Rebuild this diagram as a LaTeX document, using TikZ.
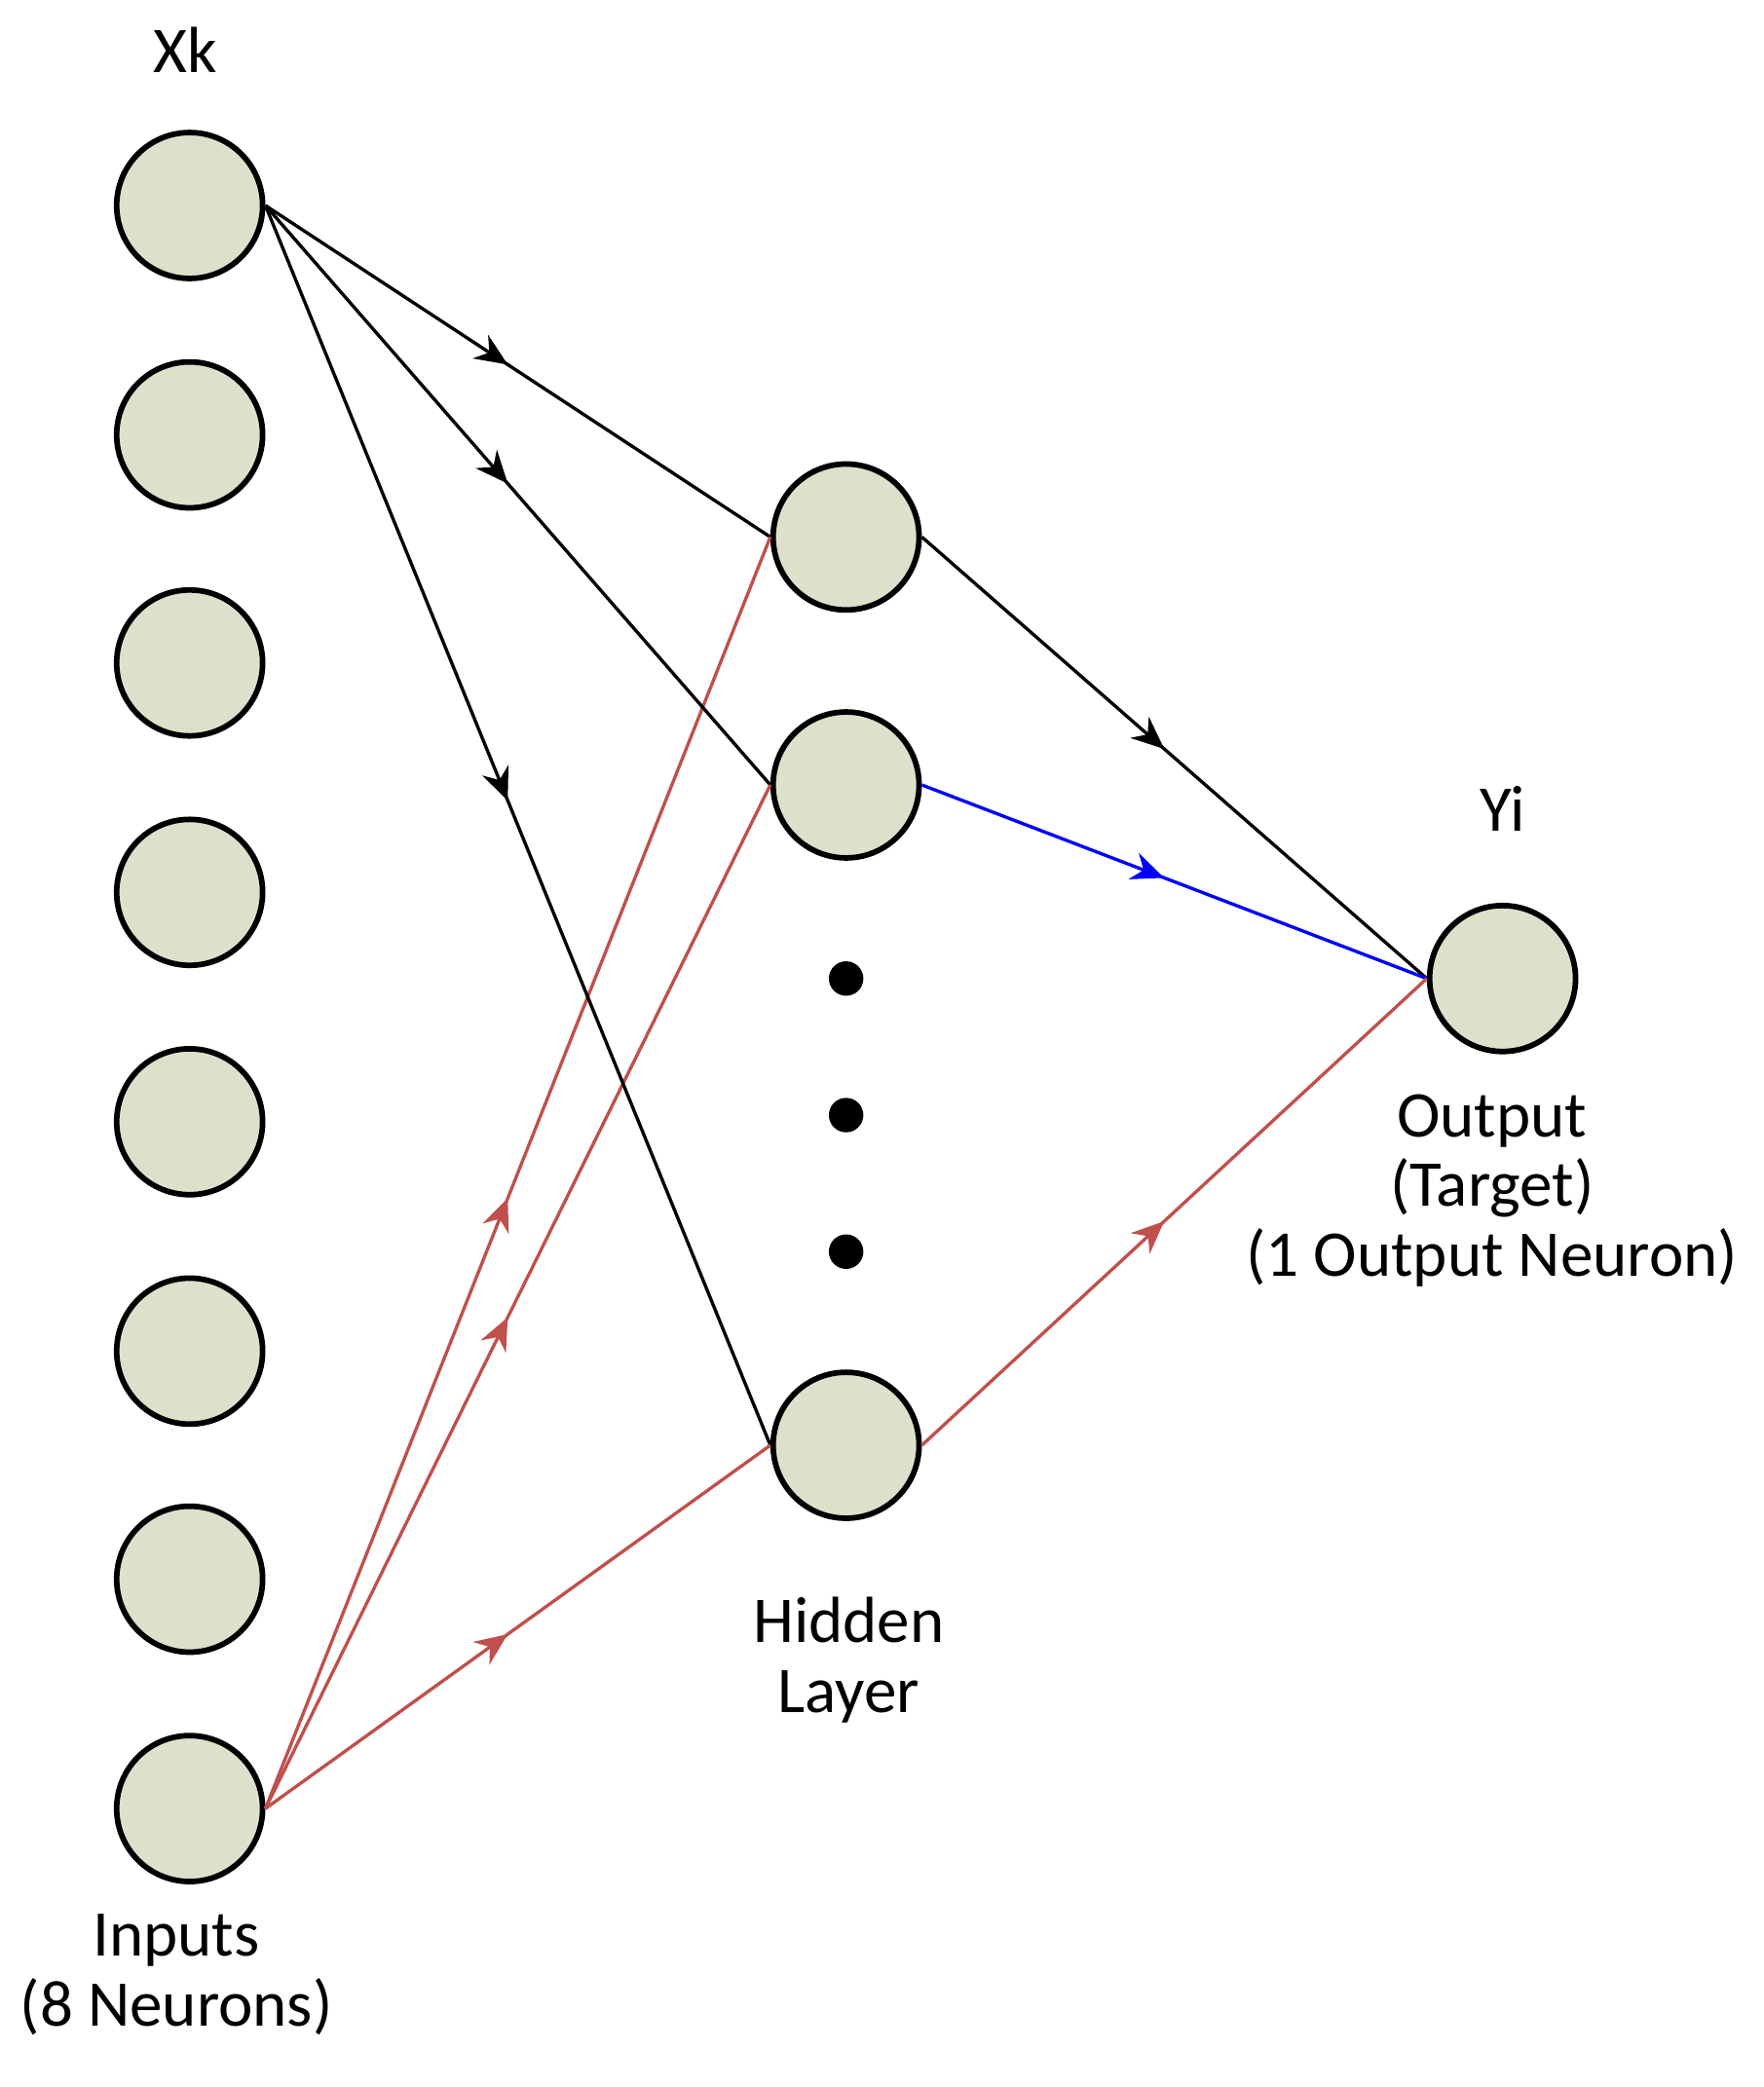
\documentclass[tikz,border=0pt]{standalone}
\usepackage{fontspec}
\setmainfont{Carlito}
\usetikzlibrary{decorations.markings,arrows.meta}
\definecolor{nfill}{RGB}{221,224,203}
\definecolor{cred}{RGB}{192,80,77}
\begin{document}
\begin{tikzpicture}[x=0.01cm,y=-0.01cm,
  neuron/.style={circle,draw=black,line width=1.2pt,fill=nfill,minimum size=1.1cm,inner sep=0pt},
  lbl/.style={font=\fontsize{14}{17}\selectfont,align=center},
  conn/.style={line width=0.7pt,postaction={decorate},decoration={markings,mark=at position 0.48 with {\arrow{Stealth[length=7pt,width=6pt]}}}},
  dot/.style={circle,fill=black,minimum size=0.26cm,inner sep=0pt}]
\useasboundingbox (0,0) rectangle (1330,1574);
\foreach \i/\y in {1/155,2/328,3/500,4/673,5/846,6/1019,7/1191,8/1364}
  \node[neuron] (i\i) at (143,\y) {};
\node[neuron] (h1) at (638,405) {};
\node[neuron] (h2) at (638,592) {};
\node[neuron] (h3) at (638,1090) {};
\node[neuron] (o) at (1133,738) {};
\node[dot] (d1) at (638,738) {};
\node[dot] (d2) at (638,841) {};
\node[dot] (d3) at (638,944) {};
\node[lbl] (xk) at (140,38) {Xk};
\node[lbl] (yi) at (1133,610) {Yi};
\node[lbl] (ol) at (1125,898) {Output\\[-2pt](Target)\\[-2pt](1 Output Neuron)};
\node[lbl] (hl) at (640,1252) {Hidden\\[-2pt]Layer};
\node[lbl] (il) at (133,1489) {Inputs\\[-2pt](8 Neurons)};
\foreach \h in {h1,h2,h3} {
  \draw[conn] (i1.east) -- (\h.west);
  \draw[conn,cred] (i8.east) -- (\h.west);
}
\draw[conn] (h1.east) -- (o.west);
\draw[conn,blue] (h2.east) -- (o.west);
\draw[conn,cred] (h3.east) -- (o.west);
\end{tikzpicture}
\end{document}
